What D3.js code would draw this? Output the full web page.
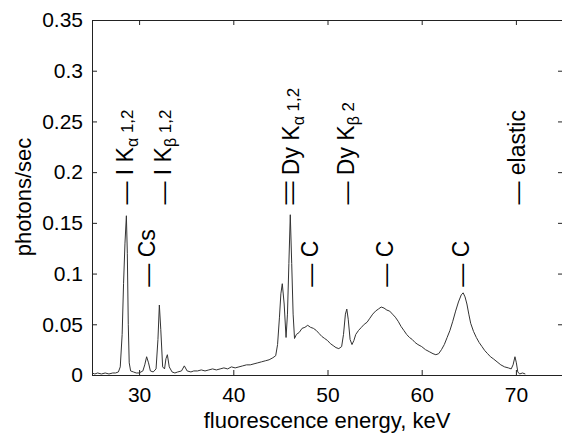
<!DOCTYPE html>
<html>
<head>
<meta charset="utf-8">
<script src="https://cdn.jsdelivr.net/npm/d3@7/dist/d3.min.js"></script>
<style>
  body { margin: 0; background: #fff; }
  text { font-family: "Liberation Sans", Arial, sans-serif; fill: #000; }
</style>
</head>
<body>
<div id="chart"></div>
<script>
// spectrum (keV, photons/sec)
var energy = [25.0,25.3,25.6,26.0,26.4,26.8,27.2,27.5,27.8,28.0,28.2,28.35,28.5,28.65,28.75,28.85,28.95,29.1,29.4,29.7,30.0,30.2,30.4,30.6,30.8,31.0,31.2,31.5,31.8,32.0,32.15,32.3,32.5,32.7,32.85,33.0,33.2,33.5,33.8,34.1,34.5,34.8,35.1,35.5,35.8,36.2,36.6,37.0,37.4,37.8,38.2,38.6,39.0,39.4,39.8,40.2,40.6,41.0,41.4,41.8,42.2,42.6,43.0,43.4,43.8,44.2,44.5,44.7,44.9,45.05,45.2,45.4,45.6,45.75,45.9,46.05,46.2,46.35,46.5,46.7,47.0,47.3,47.6,47.9,48.2,48.5,48.8,49.1,49.4,49.7,50.0,50.3,50.6,50.9,51.2,51.5,51.7,51.9,52.05,52.2,52.4,52.6,52.8,53.0,53.3,53.6,53.9,54.2,54.5,54.8,55.1,55.4,55.7,56.0,56.3,56.6,56.9,57.2,57.5,57.8,58.1,58.4,58.7,59.0,59.3,59.6,60.0,60.4,60.8,61.2,61.5,61.8,62.1,62.4,62.7,63.0,63.3,63.6,63.9,64.2,64.4,64.6,64.8,65.0,65.2,65.5,65.8,66.1,66.4,66.7,67.0,67.3,67.6,68.0,68.4,68.8,69.2,69.5,69.7,69.9,70.05,70.2,70.4,70.7,71.0];
var counts = [0.002,0.001,0.002,0.001,0.002,0.001,0.002,0.002,0.003,0.008,0.040,0.090,0.130,0.157,0.120,0.050,0.012,0.004,0.003,0.002,0.002,0.003,0.004,0.010,0.018,0.012,0.004,0.003,0.006,0.035,0.069,0.045,0.008,0.006,0.016,0.020,0.008,0.003,0.002,0.003,0.004,0.009,0.004,0.003,0.004,0.004,0.005,0.004,0.005,0.006,0.005,0.006,0.007,0.006,0.008,0.007,0.008,0.009,0.010,0.010,0.011,0.012,0.013,0.014,0.015,0.017,0.019,0.030,0.057,0.080,0.090,0.070,0.037,0.060,0.110,0.158,0.110,0.060,0.036,0.040,0.042,0.046,0.047,0.049,0.047,0.046,0.044,0.041,0.038,0.036,0.034,0.031,0.029,0.027,0.026,0.028,0.040,0.060,0.065,0.055,0.035,0.030,0.034,0.040,0.044,0.047,0.050,0.052,0.056,0.060,0.063,0.065,0.067,0.066,0.064,0.063,0.060,0.057,0.053,0.048,0.044,0.040,0.037,0.035,0.032,0.030,0.028,0.025,0.023,0.021,0.020,0.021,0.025,0.030,0.037,0.044,0.053,0.063,0.072,0.079,0.081,0.077,0.070,0.060,0.051,0.043,0.037,0.032,0.028,0.024,0.021,0.018,0.016,0.013,0.010,0.008,0.007,0.006,0.010,0.018,0.012,0.003,0.001,0.002,0.001];

var xTicks = [30, 40, 50, 60, 70];
var yTicks = [0, 0.05, 0.1, 0.15, 0.2, 0.25, 0.3, 0.35];

// line labels: position in keV, where the label starts (photons/sec), text parts
var labelE    = [28.7, 31.08, 32.72, 45.58, 46.32, 52.2, 48.39, 56.32, 64.37, 70.29];
var labelY    = [0.168, 0.087, 0.168, 0.168, 0.168, 0.168, 0.087, 0.087, 0.087, 0.168];
var labelMain = ["\u2014 I K", "\u2014 Cs", "\u2014 I K", "\u2014", "\u2014 Dy K", "\u2014 Dy K", "\u2014 C", "\u2014 C", "\u2014 C", "\u2014 elastic"];
var labelSub  = ["\u03b1", "", "\u03b2", "", "\u03b1", "\u03b2", "", "", "", ""];
var labelTail = [" 1,2", "", " 1,2", "", " 1,2", " 2", "", "", "", ""];

var w = 562, h = 434;
var margin = {left: 92, top: 20, right: 563, bottom: 375};

var svg = d3.select("#chart").append("svg")
    .attr("width", w)
    .attr("height", h);

var x = d3.scaleLinear().domain([25, 75]).range([margin.left, margin.right]);
var y = d3.scaleLinear().domain([0, 0.35]).range([margin.bottom, margin.top]);

var fmt = function(d){ return d === 0 ? "0" : String(+d.toFixed(2)); };

// axes with inward ticks, like the original figure
svg.append("g").attr("class", "axis")
    .attr("transform", "translate(0," + margin.bottom + ")")
    .call(d3.axisBottom(x).tickValues(xTicks).tickSizeInner(-5).tickSizeOuter(0).tickPadding(12).tickFormat(d3.format("d")));
svg.append("g").attr("class", "axis")
    .attr("transform", "translate(0," + margin.top + ")")
    .call(d3.axisTop(x).tickValues(xTicks).tickSizeInner(-5).tickSizeOuter(0).tickFormat(""));
svg.append("g").attr("class", "axis")
    .attr("transform", "translate(" + margin.left + ",0)")
    .call(d3.axisLeft(y).tickValues(yTicks).tickSizeInner(-5).tickSizeOuter(0).tickPadding(9).tickFormat(fmt));
svg.append("g").attr("class", "axis")
    .attr("transform", "translate(" + margin.right + ",0)")
    .call(d3.axisRight(y).tickValues(yTicks).tickSizeInner(-5).tickSizeOuter(0).tickFormat(""));

svg.selectAll(".axis text").style("font-size", "21px").style("font-family", "'Liberation Sans', Arial, sans-serif").attr("fill", "#000");
svg.selectAll(".axis path, .axis line").attr("stroke", "#222");

// spectrum
var pts = energy.map(function(e, i){ return [e, counts[i]]; });
svg.append("path")
    .datum(pts)
    .attr("fill", "none")
    .attr("stroke", "#333")
    .attr("stroke-width", 1)
    .attr("d", d3.line().x(function(d){ return x(d[0]); }).y(function(d){ return y(d[1]); }));

// rotated labels
var lab = svg.selectAll(".lab")
    .data(labelE)
    .enter()
    .append("text")
    .attr("class", "lab")
    .attr("transform", function(d, i){ return "translate(" + (x(d) + 6) + "," + y(labelY[i]) + ") rotate(-90)"; })
    .style("font-size", "23px");
lab.append("tspan").text(function(d, i){ return labelMain[i]; });
lab.append("tspan").attr("dy", 5).style("font-size", "16px").text(function(d, i){ return labelSub[i]; });
lab.append("tspan").attr("dy", -5).style("font-size", "17px").text(function(d, i){ return labelTail[i]; });

// axis titles
svg.append("text")
    .attr("x", 327).attr("y", 428)
    .attr("text-anchor", "middle")
    .style("font-size", "22px")
    .text("fluorescence energy, keV");
svg.append("text")
    .attr("transform", "translate(31,197) rotate(-90)")
    .attr("text-anchor", "middle")
    .style("font-size", "22px")
    .text("photons/sec");
</script>
</body>
</html>
